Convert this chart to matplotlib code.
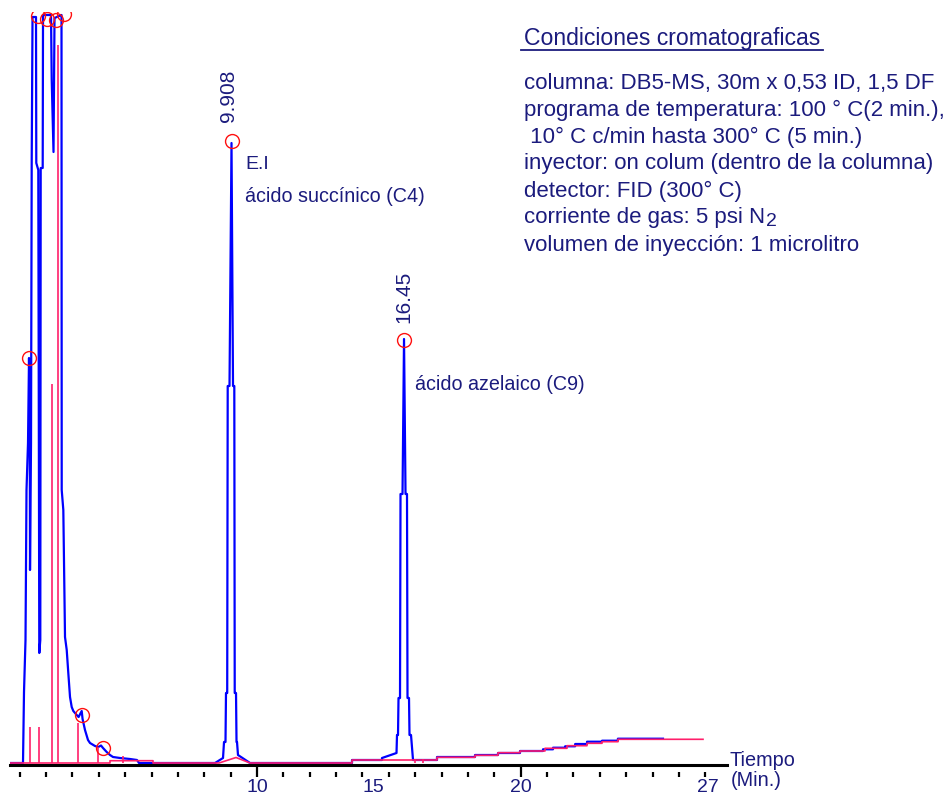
import matplotlib
matplotlib.use("Agg")
import matplotlib.pyplot as plt
from matplotlib.lines import Line2D
from matplotlib.text import Annotation
from matplotlib import transforms

plt.rcParams['font.family'] = ['Liberation Sans', 'DejaVu Sans']

# ---- detector signal (blue): retention time [min], response [a.u.] ----
signal_time = [
    1.508, 2.001, 2.039, 2.096, 2.134, 2.191, 2.229, 2.259, 2.267, 2.305,
    2.331, 2.362, 2.494, 2.505, 2.581, 2.619, 2.657, 2.672, 2.748, 2.760,
    3.063, 3.090, 3.158, 3.196, 3.461, 3.469, 3.530, 3.594, 3.659, 3.719,
    3.784, 3.848, 3.909, 4.038, 4.110, 4.227, 4.260, 4.352, 4.466, 4.542,
    4.732, 4.857, 4.959, 5.035, 5.175, 5.300, 5.414, 5.680, 6.059, 6.324,
    6.400, 9.282, 9.586, 9.624, 9.680, 9.699, 9.745, 9.764, 9.832, 9.908,
    9.965, 10.014, 10.030, 10.079, 10.098, 10.117, 10.154, 10.610, 14.478, 14.478,
    15.615, 15.615, 16.165, 16.184, 16.222, 16.241, 16.298, 16.317, 16.393, 16.450,
    16.507, 16.563, 16.582, 16.639, 16.658, 16.715, 16.791, 17.701, 17.701, 19.142,
    19.142, 20.014, 20.014, 20.848, 20.848, 21.720, 21.720, 22.100, 22.100, 22.560,
    22.560, 22.940, 22.940, 23.390, 23.390, 23.960, 23.960, 24.560, 24.560, 26.270,
]
signal_value = [
    0.0, 0.0, 7.1, 12.3, 27.3, 32.0, 40.5, 32.0, 19.3, 32.0,
    60.0, 74.6, 74.6, 60.0, 59.3, 11.0, 12.3, 59.5, 59.5, 74.8,
    74.8, 68.3, 61.1, 74.5, 74.8, 27.3, 25.3, 12.6, 11.3, 9.0,
    6.6, 5.6, 5.2, 4.8, 4.6, 5.2, 4.4, 3.3, 2.3, 2.0,
    1.7, 1.6, 1.75, 1.5, 1.1, 0.8, 0.6, 0.5, 0.4, 0.3,
    0.0, 0.0, 0.5, 2.1, 2.1, 7.0, 7.0, 37.7, 37.7, 62.0,
    37.7, 37.7, 7.0, 7.0, 2.1, 2.1, 0.8, 0.0, 0.0, 0.3,
    0.3, 0.5, 1.0, 2.8, 2.8, 6.5, 6.5, 26.9, 26.9, 42.4,
    26.9, 26.9, 6.5, 6.5, 2.8, 2.8, 0.3, 0.3, 0.6, 0.6,
    0.8, 0.8, 1.0, 1.0, 1.2, 1.2, 1.37, 1.37, 1.53, 1.53,
    1.67, 1.67, 1.9, 1.9, 2.13, 2.13, 2.23, 2.23, 2.43, 2.43,
]

# ---- integration baseline (pink) ----
baseline_time = [
    1.508, 5.300, 5.300, 6.931, 6.931, 9.434, 10.079, 10.610, 14.478, 14.478,
    17.701, 17.701, 19.142, 19.142, 20.014, 20.014, 20.848, 20.848, 21.796, 21.796,
    22.631, 22.631, 23.389, 23.389, 23.958, 23.958, 24.565, 24.565, 27.788,
]
baseline_value = [
    0.0, 0.0, 0.23, 0.23, 0.0, 0.0, 0.55, 0.0, 0.0, 0.3,
    0.3, 0.57, 0.57, 0.77, 0.77, 1.03, 1.03, 1.2, 1.2, 1.47,
    1.47, 1.73, 1.73, 1.97, 1.97, 2.13, 2.13, 2.37, 2.37,
]

# peak-boundary drop lines
drop_time = [2.267, 2.619, 3.101, 3.317, 4.098, 4.857, 5.812, 16.867, 17.170]
drop_top = [3.6, 3.6, 37.9, 71.8, 4.0, 1.6, 0.7, 0.4, 0.4]

# detected peak apices
apex_time = [2.229, 2.551, 2.911, 3.253, 3.556, 4.227, 5.035, 9.908, 16.450]
apex_value = [40.5, 74.7, 74.4, 74.3, 74.9, 4.8, 1.5, 62.2, 42.3]

# time scale
scale_ticks = list(range(1, 28))
scale_major = [10, 20]
scale_labels = ["10", "15", "20", "27"]
scale_label_at = [10, 14.4, 20, 27.1]
scale_offset = 0.875

conditions_title = "Condiciones cromatograficas"
conditions = [
    "columna: DB5-MS, 30m x 0,53 ID, 1,5 DF",
    "programa de temperatura: 100 ° C(2 min.),",
    " 10° C c/min hasta 300° C (5 min.)",
    "inyector: on colum (dentro de la columna)",
    "detector: FID (300° C)",
    "corriente de gas: 5 psi N",
    "volumen de inyección: 1 microlitro",
]

BLUE = "#0000ff"
PINK = "#ff1f6a"
RED = "#ff1010"
NAVY = "#1b1b7d"

W, H = 951, 802
fig = plt.figure(figsize=(W / 100, H / 100), dpi=100)
fig.patch.set_facecolor("white")


def fx(px):
    return px / W


def fy(py):
    return 1 - py / H


ax = fig.add_axes([fx(10), fy(765), fx(727) - fx(10), fy(12) - fy(765)])
ax.set_xlim(1.508, 28.698)
ax.set_ylim(-0.2, 75.1)
for side in ("left", "top", "right"):
    ax.spines[side].set_visible(False)
ax.spines["bottom"].set_linewidth(2.2)
ax.spines["bottom"].set_color("black")
ax.set_xticks([])
ax.set_yticks([])
ax.patch.set_alpha(0)

ax.plot(signal_time, signal_value, color=BLUE, lw=1.6, zorder=2)
ax.plot(baseline_time, baseline_value, color=PINK, lw=1.2, zorder=3)
ax.vlines(drop_time, 0, drop_top, color=PINK, lw=1.2, zorder=3)
ax.plot(apex_time, apex_value, "o", mfc="none", mec=RED, ms=10, mew=1.0, zorder=4)

# retention-time labels
ax.annotate("9.908", xy=(9.908, 62.2), xytext=(-2.5, 13.5), textcoords="offset points",
            rotation=90, ha="center", va="bottom", color=NAVY, fontsize=15)
ax.annotate("16.45", xy=(16.45, 42.3), xytext=(0, 12), textcoords="offset points",
            rotation=90, ha="center", va="bottom", color=NAVY, fontsize=15)

# compound names
ax.annotate("E.I", xy=(9.908, 62.2), xytext=(10, -17), textcoords="offset points",
            ha="left", va="center", color=NAVY, fontsize=14)
ax.annotate("ácido succínico (C4)", xy=(9.908, 62.2), xytext=(10, -40),
            textcoords="offset points", ha="left", va="center", color=NAVY, fontsize=14.2)
ax.annotate("ácido azelaico (C9)", xy=(16.45, 42.3), xytext=(8, -32),
            textcoords="offset points", ha="left", va="center", color=NAVY, fontsize=14.2)

# time scale marks below the axis line
tick_tr = transforms.blended_transform_factory(ax.transData, fig.transFigure)
minor_x = [k + scale_offset for k in scale_ticks if k not in scale_major]
major_x = [k + scale_offset for k in scale_major]
ax.vlines(minor_x, fy(777), fy(771.5), transform=tick_tr, color="black", lw=1.6,
          clip_on=False)
ax.vlines(major_x, fy(777), fy(764), transform=tick_tr, color="black", lw=1.6,
          clip_on=False)
for lab, k in zip(scale_labels, scale_label_at):
    ax.text(k + scale_offset, fy(788), lab, transform=tick_tr, ha="center", va="center",
            color=NAVY, fontsize=14)

fig.text(fx(730), fy(760), "Tiempo", ha="left", va="center", color=NAVY, fontsize=14.3)
fig.text(fx(731), fy(781), "(Min.)", ha="left", va="center", color=NAVY, fontsize=14.3)

# chromatographic conditions block
fig.text(fx(524), fy(38), conditions_title, ha="left", va="center", color=NAVY,
         fontsize=16.6)
fig.add_artist(Line2D([fx(521), fx(823)], [fy(50), fy(50)], color=NAVY, lw=1.3))
line_y = [83, 110, 137, 163, 191, 218, 245]
for txt, yy in zip(conditions, line_y):
    t = fig.text(fx(524), fy(yy), txt, ha="left", va="center", color=NAVY, fontsize=16)
    if txt.endswith("psi N"):
        # subscript of N2, placed right after the text it belongs to
        fig.add_artist(Annotation("2", xy=(1, 0.5), xycoords=t, xytext=(0.5, -2.5),
                                  textcoords="offset points", ha="left", va="center",
                                  color=NAVY, fontsize=14))

fig.savefig("out.png", dpi=100, facecolor="white")
